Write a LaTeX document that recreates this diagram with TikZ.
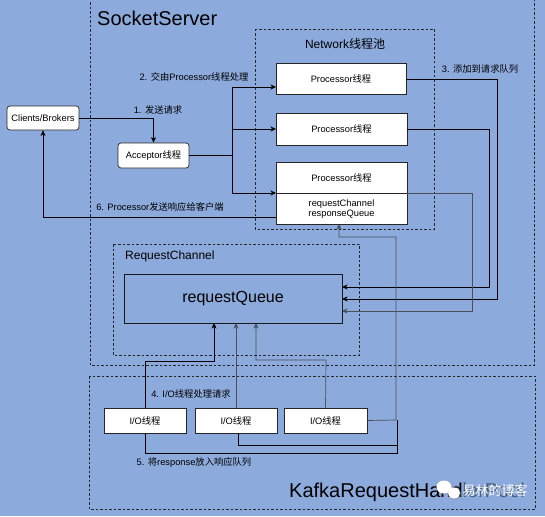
\documentclass[tikz,border=0pt]{standalone}
\usepackage{fontspec}
\setmainfont{Liberation Sans}
\newfontfamily\cjk{Noto Sans CJK SC}
\newcommand\zh[1]{{\cjk #1}}
\usetikzlibrary{arrows.meta}
\definecolor{bgblue}{HTML}{8CAADC}
\definecolor{lgrey}{HTML}{4A4F5A}
\begin{document}
\begin{tikzpicture}[x=1pt,y=-1pt,
  box/.style={draw=black!85, fill=white, line width=0.7pt, inner sep=0pt, font=\fontsize{9.3}{11}\selectfont, align=center},
  rbox/.style={box, rounded corners=3pt},
  container/.style={draw=black!85, dash pattern=on 2.5pt off 2pt, line width=0.6pt},
  conn/.style={draw=black, line width=0.7pt},
  gconn/.style={draw=lgrey, line width=0.7pt},
  arr/.style={-{Stealth[length=5.5pt,width=5pt,inset=1.5pt]}},
  lbl/.style={font=\fontsize{9.3}{11}\selectfont, inner sep=0pt},
]
\useasboundingbox (0,0) rectangle (545,516);
\fill[bgblue] (0,0) rectangle (545,516);

% containers
\draw[container] (90,-2) rectangle (534,365);
\node[font=\fontsize{20}{24}\selectfont, anchor=west, inner sep=0pt] (sstitle) at (97,18) {SocketServer};
\draw[container] (255,29) rectangle (434,229);
\node[font=\fontsize{12}{14}\selectfont, inner sep=0pt] (nettitle) at (345,44) {Network\zh{线程池}};
\draw[container] (113,244) rectangle (359,355);
\node[font=\fontsize{12}{14}\selectfont, anchor=west, inner sep=0pt] (rctitle) at (125,256) {RequestChannel};
\draw[container] (89,376) rectangle (535,509);
\node[font=\fontsize{20}{24}\selectfont, anchor=west, inner sep=0pt] (kptitle) at (289,492) {KafkaRequestHandlerPool};

% nodes
\node[rbox, minimum width=72pt, minimum height=24pt] (clients) at (43,118) {Clients/Brokers};
\node[rbox, minimum width=71pt, minimum height=25pt] (acceptor) at (153.5,155.5) {Acceptor\zh{线程}};
\node[box, minimum width=130pt, minimum height=31pt] (p1) at (341,78.5) {Processor\zh{线程}};
\node[box, minimum width=131pt, minimum height=32pt] (p2) at (341.5,129) {Processor\zh{线程}};
\node[box, minimum width=131pt, minimum height=62pt] (p3) at (341.5,193) {};
\draw[black!85, line width=0.6pt] (p3.west) -- (p3.east);
\node[lbl] (p3a) at (341.5,178) {Processor\zh{线程}};
\node[lbl, align=center, font=\fontsize{9.3}{10.5}\selectfont] (p3b) at (341.5,209) {requestChannel\\responseQueue};
\node[box, draw=black!90, line width=0.9pt, fill=none, minimum width=218pt, minimum height=49pt, font=\fontsize{16}{19}\selectfont] (rq) at (233,298.5) {requestQueue};
\node[box, minimum width=82pt, minimum height=25pt] (io1) at (145,420.5) {I/O\zh{线程}};
\node[box, minimum width=82pt, minimum height=25pt] (io2) at (236,420.5) {I/O\zh{线程}};
\node[box, minimum width=83pt, minimum height=25pt] (io3) at (325.5,420.5) {I/O\zh{线程}};

% helper coordinates
\coordinate (split) at (232,155.5);
\coordinate (p1in) at (276,87);
\coordinate (p2in) at (276,129);
\coordinate (p3in) at (276,193);
\coordinate (p3out) at (276,217);
\coordinate (p1out) at (406,79);
\coordinate (p2out) at (407,129);
\coordinate (p3rout) at (407,193);
\coordinate (rqa) at (342,287);
\coordinate (rqb) at (342,299);
\coordinate (rqc) at (342,311);
\coordinate (rq1) at (214,323);
\coordinate (rq2) at (236,323);
\coordinate (rq3) at (256,323);
\coordinate (p3bot) at (339,224);
\coordinate (io2bot) at (238,433);

% 1
\draw[conn, arr] (clients.east) -| (acceptor.north);
\node[lbl] (l1) at (158,110) {1. \zh{发送请求}};
% 2
\draw[conn] (acceptor.east) -- (split);
\draw[conn, arr] (split) |- (p1in);
\draw[conn, arr] (split) |- (p2in);
\draw[conn, arr] (split) |- (p3in);
\node[lbl] (l2) at (194,77) {2. \zh{交由}Processor\zh{线程处理}};
% 6
\draw[conn, arr] (p3out) -| (clients.south);
\node[lbl] (l6) at (160,207) {6. Processor\zh{发送响应给客户端}};
% 3
\draw[conn, arr] (p1out) -- (497,79) -- (497,299) -- (rqb);
\draw[conn, arr] (p2out) -- (489,129) -- (489,287) -- (rqa);
\draw[gconn, arr] (p3rout) -- (472,193) -- (472,311) -- (rqc);
\node[lbl] (l3) at (480,69) {3. \zh{添加到请求队列}};
% 4
\draw[conn, arr] (io1.north) -- (145,361) -- (214,361) -- (rq1);
\draw[gconn, arr] (io2.north) -- (rq2);
\draw[gconn, arr] (io3.north) -- (326,360) -- (256,360) -- (rq3);
\node[lbl] (l4) at (191,394) {4. I/O\zh{线程处理请求}};
% 5
\draw[conn] (io1.south) -- (145,453) -- (397,453) -- (397,420);
\draw[conn] (io2bot) -- (238,445) -- (397,445);
\draw[gconn, arr] (io3.east) -- (396,420) -- (396,237) -- (339,237) -- (p3bot);
\node[lbl] (l5) at (194,463) {5. \zh{将}response\zh{放入响应队列}};

% watermark (WeChat icon and name)
\fill[bgblue, opacity=0.55, rounded corners=4pt] (462,482) rectangle (529,501);
\fill[black!45, opacity=0.5] (444.5,487.5) ellipse (8pt and 7pt);
\fill[white] (444,487) ellipse (7.5pt and 6.5pt);
\fill[black!45, opacity=0.5] (454.5,493.5) ellipse (6.5pt and 6pt);
\fill[white] (454,493) ellipse (6pt and 5.5pt);
\node[text=white, font=\cjk\fontsize{13}{15}\selectfont, inner sep=0pt] (wm) at (495,491) {易林的博客};
\end{tikzpicture}
\end{document}
